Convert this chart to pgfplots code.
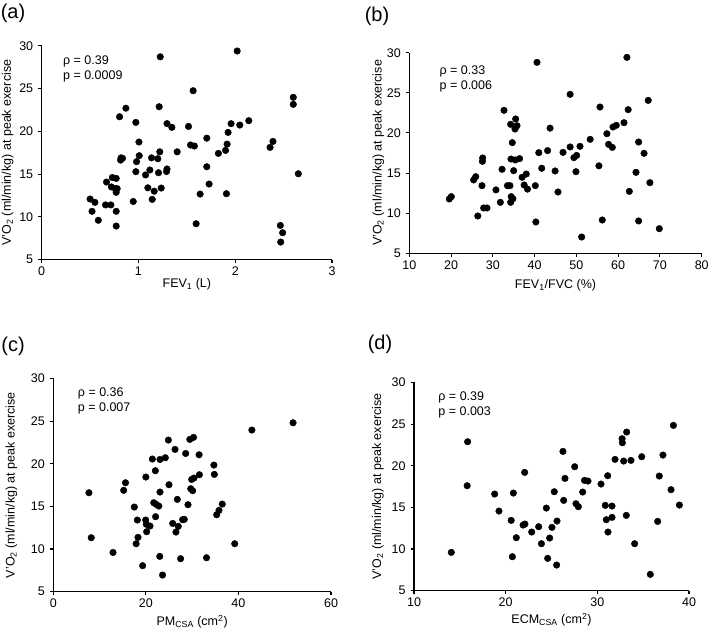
\documentclass[border=0pt]{standalone}
\usepackage{fontspec}
\setmainfont{Liberation Sans}
\usepackage{pgfplots}
\pgfplotsset{compat=1.18}
\tikzset{note/.style={anchor=north west, align=left, font=\fontsize{12.5}{15}\selectfont, inner sep=0pt}}
\pgfplotsset{
  panel/.style={
    scale only axis,
    axis x line=bottom, axis y line=left,
    axis line style={-, black, line width=1.1pt},
    tick align=outside, major tick length=3.5pt,
    tick style={black, line width=1.1pt},
    xtick pos=bottom, ytick pos=left,
    ymin=5, ymax=30, ytick={5,10,15,20,25,30},
    /pgf/number format/assume math mode=true,
    tick label style={font=\fontsize{12.5}{14}\selectfont},
    yticklabel style={xshift=-1.5pt},
    ylabel={V'O\textsubscript{2} (ml/min/kg) at peak exercise},
    clip=false,
  },
  ylab/.style={every axis y label/.style={at={(axis description cs:0,0.5)}, xshift=#1, rotate=90, anchor=center, font=\fontsize{12.5}{14}\selectfont}},
  xlab/.style={every axis x label/.style={at={(axis description cs:0.5,0)}, yshift=#1, anchor=center, font=\fontsize{12.5}{14}\selectfont}},
  dots/.style={only marks, mark=*, mark size=3.3pt, black, mark options={fill=black}},
}
\begin{document}
\begin{tikzpicture}[x=1pt,y=1pt]
\useasboundingbox (0,0) rectangle (709,633);
\node[font=\fontsize{20}{22}\selectfont] at (13,620) {(a)};
\node[font=\fontsize{20}{22}\selectfont] at (377,617) {(b)};
\node[font=\fontsize{20}{22}\selectfont] at (13,287) {(c)};
\node[font=\fontsize{20}{22}\selectfont] at (380,289) {(d)};
% (a)
\begin{axis}[panel, ylab=-34pt, xlab=-25pt, at={(41.7pt,373.3pt)}, anchor=south west,
  width=290.3pt, height=214pt,
  xmin=0, xmax=3, xtick={0,1,2,3},
  xlabel={FEV\textsubscript{1} (L)}]
\addplot[dots] coordinates {
(0.50,12.09) (0.55,11.7) (0.52,10.65) (0.585,9.6) (0.67,14.07) (0.66,11.4)
(0.715,11.4) (0.73,14.6) (0.77,14.5) (0.72,13.5) (0.76,13.3) (0.78,13.3)
(0.77,12.87) (0.77,10.65) (0.77,8.93) (0.805,21.7) (0.87,22.7) (0.815,16.64)
(0.835,16.84) (0.82,16.9) (0.946,11.8) (0.973,21.04) (1.005,18.75) (0.98,16.45)
(1.008,17.15) (0.973,15.28) (1.073,14.9) (1.097,13.4) (1.118,15.48) (1.142,12.05)
(1.163,13.0) (1.135,16.9) (1.2,16.8) (1.207,15.16) (1.22,17.6) (1.214,22.87)
(1.225,28.7) (1.235,13.37) (1.29,15.3) (1.295,15.6) (1.295,20.9) (1.345,20.46)
(1.40,17.6) (1.517,20.57) (1.538,18.4) (1.578,18.28) (1.565,24.74) (1.596,9.2)
(1.637,12.67) (1.706,19.2) (1.706,15.86) (1.73,13.84) (1.826,17.42) (1.90,17.77)
(1.916,18.5) (1.926,19.87) (1.957,20.89) (1.909,12.71) (2.02,29.38) (2.047,20.73)
(2.14,21.24) (2.36,18.12) (2.39,18.82) (2.466,9.0) (2.49,8.15) (2.47,7.06)
(2.60,23.97) (2.60,23.15) (2.652,15.04)
};
\node[note] at (rel axis cs:0.073,0.955) {ρ = 0.39\\p = 0.0009};
\end{axis}
% (b)
\begin{axis}[panel, ylab=-31pt, xlab=-32pt, at={(409.3pt,379.7pt)}, anchor=south west,
  width=292.4pt, height=200.6pt,
  xmin=10, xmax=80, xtick={10,20,...,80},
  xlabel={FEV\textsubscript{1}/FVC (\%)}]
\addplot[dots] coordinates {
(19.58,11.77) (20.06,12.06) (25.4,14.14) (25.9,14.55) (26.4,9.65) (27.4,13.43)
(27.56,16.88) (27.5,16.46) (27.8,10.65) (28.6,10.65) (30.75,12.9) (31.8,11.35)
(32.2,15.47) (32.67,22.82) (33.5,13.43) (34.1,13.43) (34.26,21.07) (34.34,16.75)
(34.4,12.06) (34.26,11.35) (34.8,11.8) (34.66,18.79) (34.98,15.3) (35.3,20.49)
(35.46,21.74) (35.78,20.9) (35.38,16.63) (36.4,16.8) (37.0,14.47) (37.5,13.51)
(38.0,14.88) (38.3,13.0) (40.17,13.43) (40.3,8.9) (40.57,28.8) (41.0,17.54)
(41.7,15.6) (43.1,17.8) (43.7,20.6) (44.9,15.26) (45.6,12.64) (46.8,17.58)
(48.5,24.81) (48.5,18.25) (49.4,16.92) (50.06,17.2) (49.9,15.17) (50.86,18.33)
(51.26,7.03) (53.3,19.2) (55.4,15.9) (55.65,23.23) (56.2,9.15) (57.3,19.9)
(57.7,18.58) (58.6,18.2) (58.76,20.74) (59.56,20.95) (61.4,21.28) (62.1,29.42)
(62.4,22.9) (62.67,12.72) (64.27,15.09) (64.9,18.87) (64.9,9.03) (66.2,17.46)
(67.2,24.06) (67.6,13.8) (69.85,8.07)
};
\node[note] at (rel axis cs:0.103,0.935) {ρ = 0.33\\p = 0.006};
\end{axis}
% (c)
\begin{axis}[panel, ylab=-42pt, xlab=-30pt, at={(53.3pt,41.3pt)}, anchor=south west,
  width=277.7pt, height=213.3pt,
  xmin=0, xmax=60, xtick={0,20,40,60},
  xlabel={PM\textsubscript{CSA} (cm\textsuperscript{2})}]
\addplot[dots] coordinates {
(7.7,16.6) (8.2,11.33) (12.9,9.6) (15.2,16.88) (15.6,17.77) (17.5,14.92)
(18.16,13.4) (17.9,10.62) (18.3,11.37) (19.3,8.05) (20.0,18.44) (19.96,13.4)
(20.1,12.9) (20.17,12.03) (20.9,12.7) (21.4,20.55) (21.7,15.43) (22.1,13.79)
(22.05,19.18) (22.26,15.23) (22.8,15.04) (23.05,16.68) (23.0,9.14) (23.05,20.5)
(23.6,6.95) (24.2,20.7) (24.86,22.77) (25.0,17.54) (26.3,21.68) (25.8,13.0)
(26.8,15.82) (26.5,11.99) (27.0,12.66) (27.5,8.87) (27.95,13.44) (28.3,13.48)
(28.6,21.2) (29.1,15.2) (29.5,22.85) (30.3,23.09) (29.7,17.07) (30.1,16.84)
(29.9,18.16) (30.4,18.32) (31.5,21.05) (31.56,18.71) (33.1,8.98) (34.7,19.84)
(34.8,18.75) (35.3,14.02) (35.8,14.53) (36.5,15.27) (39.2,10.62) (42.9,23.95)
(51.8,24.8)
};
\node[note] at (rel axis cs:0.088,0.955) {ρ = 0.36\\p = 0.007};
\end{axis}
% (d)
\begin{axis}[panel, ylab=-36pt, xlab=-29pt, at={(414pt,42.3pt)}, anchor=south west,
  width=275pt, height=208.3pt,
  xmin=10, xmax=40, xtick={10,20,30,40},
  xlabel={ECM\textsubscript{CSA} (cm\textsuperscript{2})}]
\addplot[dots] coordinates {
(14.07,9.6) (15.85,22.88) (15.8,17.6) (18.8,16.6) (19.27,14.56) (20.6,13.44)
(20.84,16.72) (20.73,9.08) (21.16,11.36) (22.07,19.2) (21.9,12.88) (22.1,13.0)
(22.84,12.04) (23.6,12.68) (23.9,10.64) (24.44,14.92) (24.58,8.88) (24.8,11.32)
(25.05,12.6) (25.3,16.88) (25.6,13.36) (25.56,8.08) (26.25,21.72) (26.33,15.84)
(26.47,18.48) (27.53,19.88) (27.67,15.44) (27.93,15.08) (28.4,16.84) (28.6,18.24)
(28.98,18.16) (30.4,17.8) (30.87,15.24) (30.98,13.52) (31.16,12.04) (31.13,18.8)
(31.6,15.16) (31.6,13.8) (31.93,20.76) (32.7,23.24) (32.73,22.76) (32.87,20.56)
(33.2,24.04) (33.16,14.04) (33.67,20.64) (34.07,10.64) (34.84,21.08) (35.78,6.96)
(36.58,13.32) (36.76,18.76) (37.16,21.28) (38.04,17.12) (38.3,24.84) (38.95,15.28)
};
\node[note] at (rel axis cs:0.088,0.955) {ρ = 0.39\\p = 0.003};
\end{axis}
\end{tikzpicture}
\end{document}
